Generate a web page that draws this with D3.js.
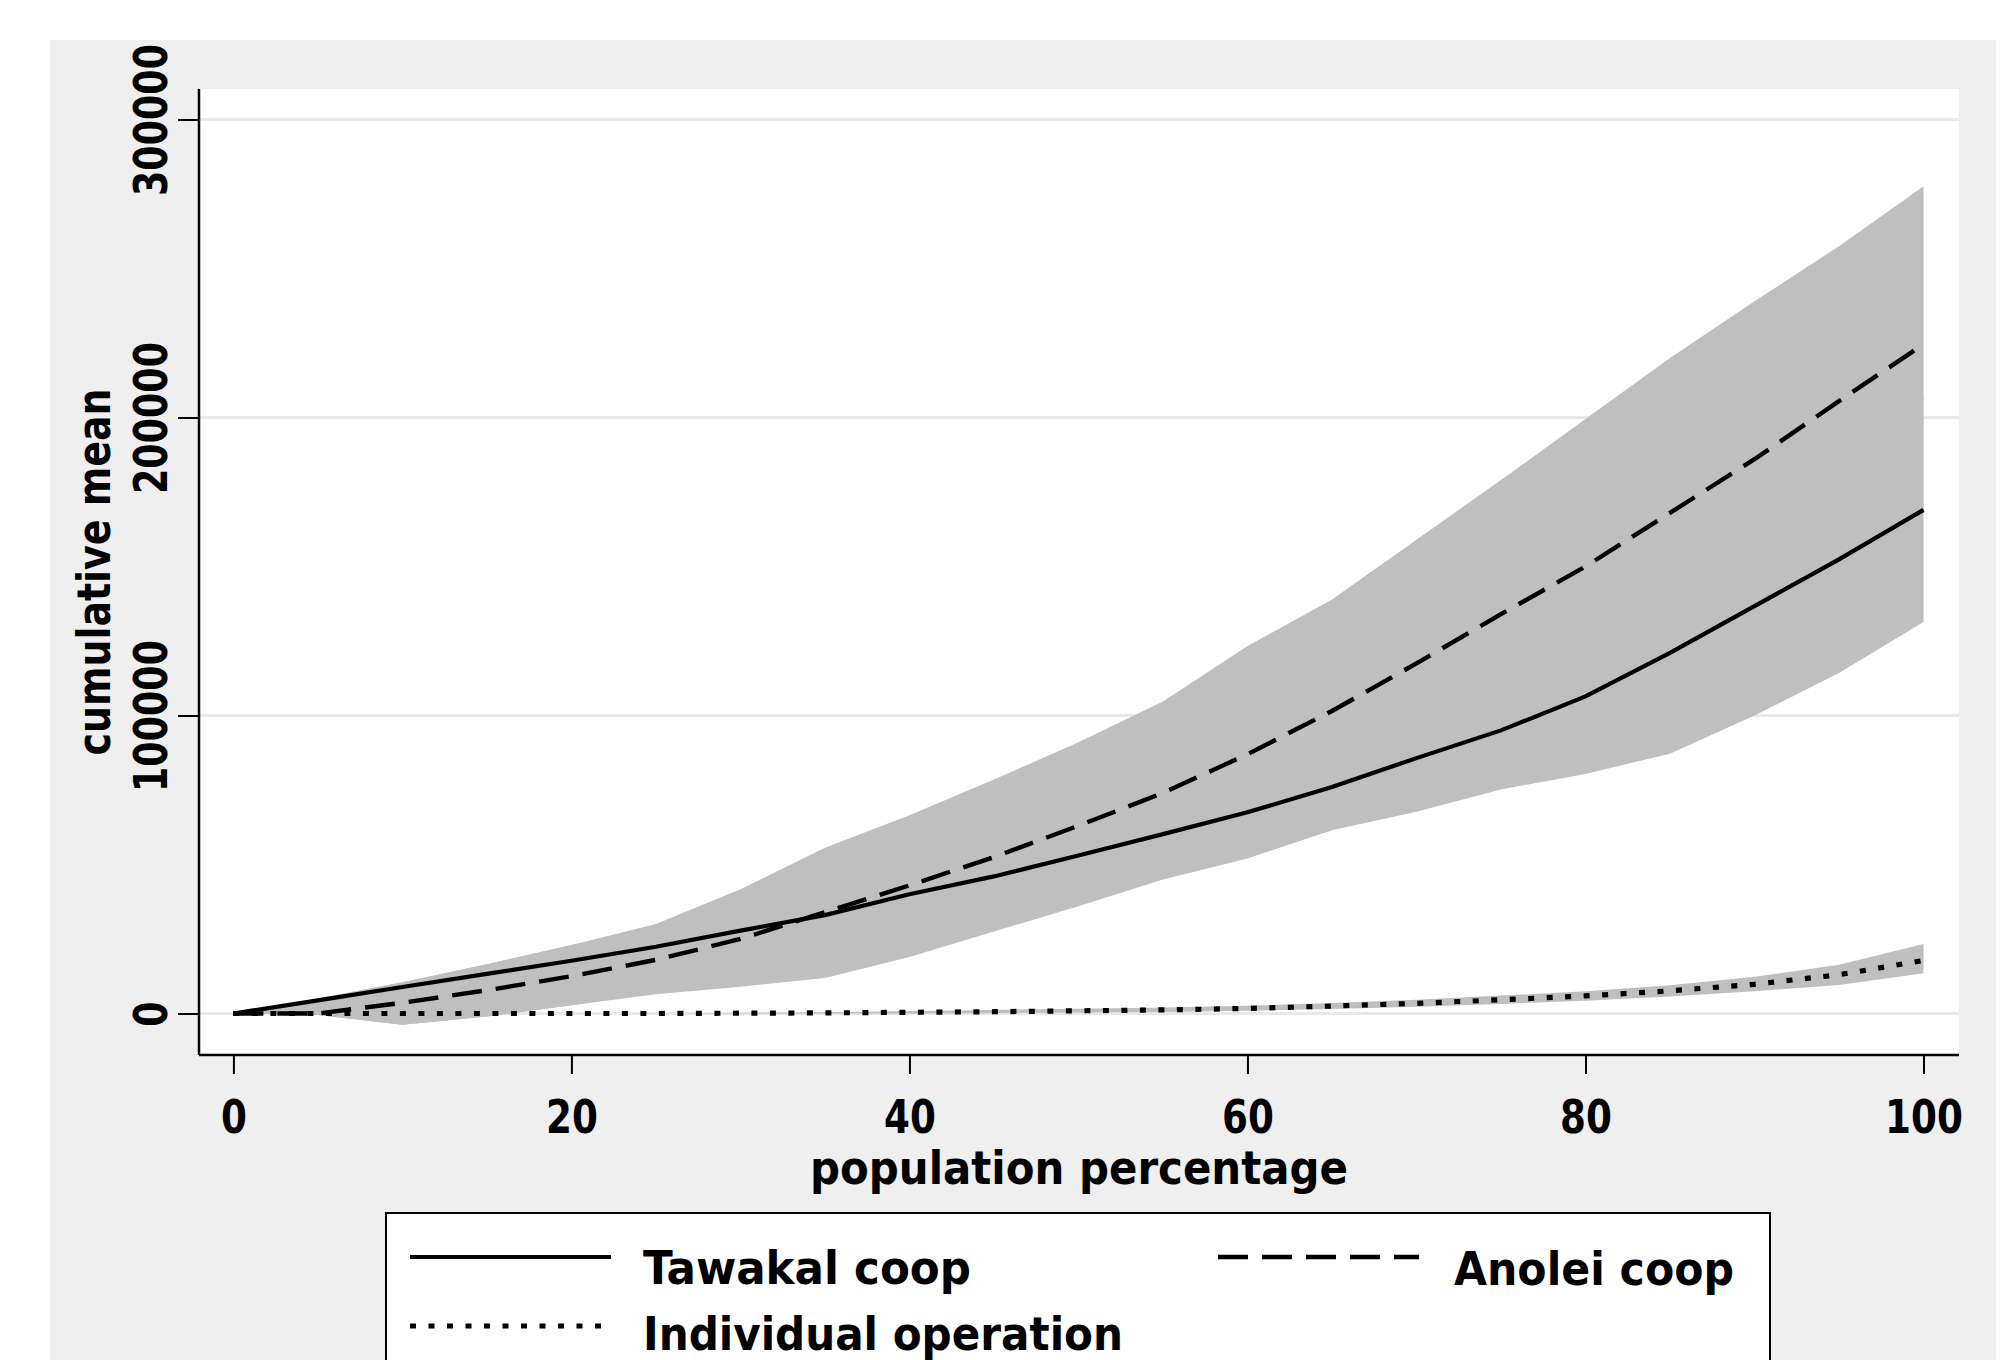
<!DOCTYPE html>
<html><head><meta charset="utf-8">
<script src="https://cdn.jsdelivr.net/npm/d3@7"></script>
<style>
html,body{margin:0;padding:0;background:#fff;}
svg{display:block;}
text{font-family:'DejaVu Sans Condensed','DejaVu Sans',sans-serif;font-stretch:condensed;font-weight:bold;fill:#000;}
</style>
</head><body>
<svg id="c" width="2011" height="1360"></svg>
<script>
// ---- data ----
const pct = [0,5,10,15,20,25,30,35,40,45,50,55,60,65,70,75,80,85,90,95,100];
const tawakal   = [0,4400,8900,13300,17700,22400,27800,33000,40000,46000,53000,60200,67500,76000,85700,95000,106400,121000,136700,152400,169000];
const tawakalLo = [0,-500,-3800,-1000,2800,6500,9000,11900,19000,27500,36000,45000,52000,61500,67700,75200,80400,87200,100000,114300,131400];
const tawakalHi = [0,5000,10500,16500,23000,28000,35000,41000,48000,56000,64000,73000,83000,94000,105000,117000,131000,150000,170000,190000,208000];
const anolei    = [0,0,3600,7800,12500,18000,25000,34000,43000,52500,63000,74000,87000,101500,117500,134000,150000,168000,186000,205500,224600];
const anoleiLo  = [0,-500,-3800,-1000,2800,7000,11000,16000,22000,30000,38000,47000,57000,68000,80000,93000,106000,120000,134000,150000,168000];
const anoleiHi  = [0,5000,10500,16500,23000,30000,41700,55600,66500,78500,91000,104700,123300,138900,159000,179000,199500,220000,239000,257500,277600];
const indiv     = [0,0,0,0,0,0,100,200,400,600,900,1200,1700,2500,3400,4600,5900,7600,9800,13000,17800];
const indivLo   = [0,0,0,0,0,0,0,0,0,100,300,500,900,1500,2300,3200,4300,5700,7500,9600,13500];
const indivHi   = [0,0,0,0,0,0,200,400,800,1200,1600,2000,2600,3500,4600,6000,7500,9500,12300,16400,23300];
const xTicks = [0,20,40,60,80,100];
const yTicks = [0,100000,200000,300000];
const seriesNames = ["Tawakal coop","Anolei coop","Individual operation"];
const xTitle = "population percentage";
const yTitle = "cumulative mean";

// ---- layout ----
const svg = d3.select("#c");
const P = {left:199, right:1959, top:89, bottom:1055};
const x = d3.scaleLinear().domain([0,100]).range([233.4,1923.5]);
const y = d3.scaleLinear().domain([0,300000]).range([1013.5,119.5]);

svg.append("rect").attr("x",50).attr("y",40).attr("width",1946).attr("height",1400).attr("fill","#efefef");
svg.append("rect").attr("x",P.left).attr("y",P.top).attr("width",P.right-P.left).attr("height",P.bottom-P.top).attr("fill","#fff");

// gridlines
svg.append("g").selectAll("line").data(yTicks).join("line")
  .attr("x1",P.left).attr("x2",P.right)
  .attr("y1",d=>y(d)).attr("y2",d=>y(d))
  .attr("stroke","#e8e8e8").attr("stroke-width",3);

const mk = (arr)=>pct.map((p,i)=>({p, v:arr[i]}));
const band = (lo,hi)=>pct.map((p,i)=>({p, lo:lo[i], hi:hi[i]}));
const area = d3.area().x(d=>x(d.p)).y0(d=>y(d.lo)).y1(d=>y(d.hi));
const line = d3.line().x(d=>x(d.p)).y(d=>y(d.v));

const bandFill = "#bfbfbf";
[band(tawakalLo,tawakalHi), band(anoleiLo,anoleiHi), band(indivLo,indivHi)].forEach(b=>{
  svg.append("path").datum(b).attr("d",area).attr("fill",bandFill).attr("stroke","none");
});

const styles = [
  {w:4.2, dash:null},
  {w:4.4, dash:"30,14"},
  {w:5.2, dash:"6,12.5"}
];
[tawakal, anolei, indiv].forEach((s,i)=>{
  svg.append("path").datum(mk(s)).attr("d",line).attr("fill","none")
    .attr("stroke","#000").attr("stroke-width",styles[i].w)
    .attr("stroke-dasharray",styles[i].dash);
});

// axes
const fs = 46;
const squeeze = (sel, k)=>sel.each(function(){
  const w = this.getComputedTextLength();
  d3.select(this).attr("textLength", w*k).attr("lengthAdjust","spacingAndGlyphs");
});
const gx = svg.append("g").attr("transform",`translate(0,${P.bottom})`)
  .call(d3.axisBottom(x).tickValues(xTicks).tickSize(19).tickSizeOuter(0).tickFormat(d3.format("d")));
gx.attr("font-family",null).attr("font-size",null);
gx.select(".domain").remove();
gx.selectAll(".tick line").attr("stroke","#000").attr("stroke-width",2);
gx.selectAll(".tick text").attr("y",78).attr("dy",0).attr("font-size",fs).call(squeeze,0.9);

const gy = svg.append("g").attr("transform",`translate(${P.left},0)`)
  .call(d3.axisLeft(y).tickValues(yTicks).tickSize(21).tickSizeOuter(0).tickFormat(d3.format("d")));
gy.attr("font-family",null).attr("font-size",null);
gy.select(".domain").remove();
gy.selectAll(".tick line").attr("stroke","#000").attr("stroke-width",2);
gy.selectAll(".tick text").attr("transform","rotate(-90)").attr("x",0).attr("y",-32).attr("dy",0)
  .attr("text-anchor","middle").attr("font-size",fs).call(squeeze,0.88);

// axis lines
svg.append("line").attr("x1",P.left).attr("x2",P.right).attr("y1",P.bottom).attr("y2",P.bottom).attr("stroke","#000").attr("stroke-width",2.5);
svg.append("line").attr("x1",P.left).attr("x2",P.left).attr("y1",P.top).attr("y2",P.bottom).attr("stroke","#000").attr("stroke-width",2.5);

// axis titles
svg.append("text").attr("x",(P.left+P.right)/2).attr("y",1184).attr("text-anchor","middle")
  .attr("font-size",fs).attr("textLength",538).attr("lengthAdjust","spacingAndGlyphs").text(xTitle);
svg.append("text").attr("transform",`translate(110,${(P.top+P.bottom)/2}) rotate(-90)`).attr("text-anchor","middle")
  .attr("font-size",fs).attr("textLength",367).attr("lengthAdjust","spacingAndGlyphs").text(yTitle);

// legend
svg.append("rect").attr("x",386).attr("y",1213).attr("width",1384).attr("height",220)
  .attr("fill","#fff").attr("stroke","#000").attr("stroke-width",2);
const leg = [
  {name:seriesNames[0], sx:410, sy:1257, len:201, tx:643, ty:1284, tw:328, st:styles[0]},
  {name:seriesNames[1], sx:1218, sy:1257, len:201, tx:1454, ty:1285, tw:280, st:styles[1]},
  {name:seriesNames[2], sx:410, sy:1326, len:194, tx:643, ty:1350, tw:480, st:styles[2]}
];
leg.forEach(l=>{
  svg.append("line").attr("x1",l.sx).attr("x2",l.sx+l.len).attr("y1",l.sy).attr("y2",l.sy)
    .attr("stroke","#000").attr("stroke-width",l.st.w).attr("stroke-dasharray",l.st.dash);
  svg.append("text").attr("x",l.tx).attr("y",l.ty).attr("font-size",fs)
    .attr("textLength",l.tw).attr("lengthAdjust","spacingAndGlyphs").text(l.name);
});
</script>
</body></html>
